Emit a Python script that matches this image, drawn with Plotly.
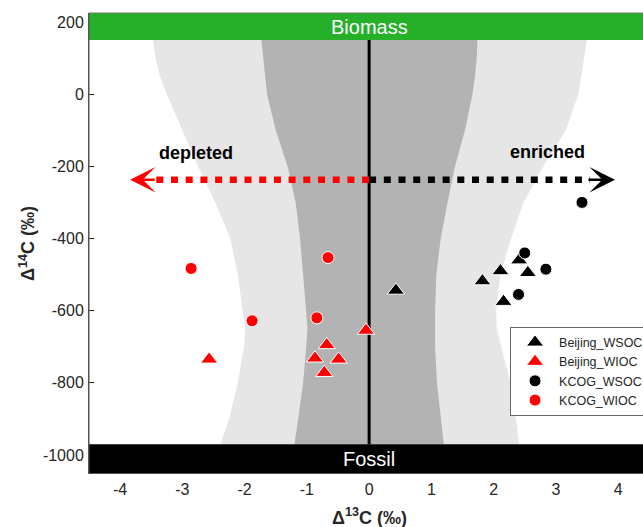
import plotly.graph_objects as go

# ---------------- data ----------------
bj_wsoc_x = [0.43, 1.82, 2.11, 2.41, 2.55, 2.16]
bj_wsoc_y = [-544, -518, -490, -460, -495, -575]
bj_wioc_x = [-2.57, -0.05, -0.68, -0.87, -0.49, -0.72]
bj_wioc_y = [-735, -655, -695, -732, -735, -772]
kc_wsoc_x = [3.42, 2.50, 2.84, 2.40]
kc_wsoc_y = [-300, -440, -485, -555]
kc_wioc_x = [-2.86, -1.88, -0.66, -0.84]
kc_wioc_y = [-483, -628, -453, -620]

# shaded envelope boundaries (x value at each y level)
band_y = [150, 100, 50, 0, -100, -200, -300, -400, -500, -600, -650, -700, -800, -900, -970]
light_left = [-3.47, -3.43, -3.36, -3.25, -3.00, -2.75, -2.47, -2.23, -2.11, -2.03, -1.99, -2.01, -2.11, -2.25, -2.39]
dark_left = [-1.73, -1.70, -1.67, -1.64, -1.50, -1.31, -1.18, -1.11, -1.06, -1.01, -0.99, -1.01, -1.06, -1.14, -1.20]
dark_right = [1.74, 1.73, 1.70, 1.66, 1.54, 1.38, 1.26, 1.15, 1.08, 1.06, 1.06, 1.06, 1.09, 1.15, 1.20]
light_right = [3.50, 3.46, 3.41, 3.36, 3.16, 2.80, 2.48, 2.28, 2.11, 2.04, 2.05, 2.13, 2.27, 2.36, 2.41]

x_range = [-4.5, 4.4]
y_range = [-1050, 225]
biomass_bottom = 150
fossil_top = -970
arrow_y = -237
depleted_start, depleted_tip = -3.47, -3.84
enriched_start, enriched_tip = 3.55, 3.95
x_ticks = [-4, -3, -2, -1, 0, 1, 2, 3, 4]
x_tick_labels = ["-4", "-3", "-2", "-1", "0", "1", "2", "3", "4"]
y_ticks = [-1000, -800, -600, -400, -200, 0, 200]
y_tick_labels = ["-1000", "-800", "-600", "-400", "-200", "0", "200"]

FONT = "Liberation Sans, Arial, sans-serif"
TICK_COLOR = "#262626"

fig = go.Figure()

# light band
fig.add_trace(go.Scatter(
    x=light_left + light_right[::-1], y=band_y + band_y[::-1],
    fill="toself", fillcolor="#e6e6e6", mode="lines", line=dict(width=0),
    hoverinfo="skip", showlegend=False))
# dark band
fig.add_trace(go.Scatter(
    x=dark_left + dark_right[::-1], y=band_y + band_y[::-1],
    fill="toself", fillcolor="#b3b3b3", mode="lines", line=dict(width=0),
    hoverinfo="skip", showlegend=False))
# vertical zero line
fig.add_trace(go.Scatter(
    x=[0, 0], y=[fossil_top, biomass_bottom], mode="lines",
    line=dict(color="black", width=3), hoverinfo="skip", showlegend=False))
# dotted arrows
fig.add_trace(go.Scatter(
    x=[0, depleted_start], y=[arrow_y, arrow_y], mode="lines",
    line=dict(color="#ff0000", width=6.5, dash="7px,7.7px"),
    hoverinfo="skip", showlegend=False))
fig.add_trace(go.Scatter(
    x=[0, enriched_start], y=[arrow_y, arrow_y], mode="lines",
    line=dict(color="black", width=6.5, dash="7px,7.7px"),
    hoverinfo="skip", showlegend=False))

marker_line = dict(color="white", width=1)
fig.add_trace(go.Scatter(x=bj_wsoc_x, y=bj_wsoc_y, mode="markers", name="Beijing_WSOC",
                         marker=dict(symbol="triangle-up", size=15, color="black", line=marker_line)))
fig.add_trace(go.Scatter(x=bj_wioc_x, y=bj_wioc_y, mode="markers", name="Beijing_WIOC",
                         marker=dict(symbol="triangle-up", size=15, color="#ff0000", line=marker_line)))
fig.add_trace(go.Scatter(x=kc_wsoc_x, y=kc_wsoc_y, mode="markers", name="KCOG_WSOC",
                         marker=dict(symbol="circle", size=12, color="black", line=marker_line)))
fig.add_trace(go.Scatter(x=kc_wioc_x, y=kc_wioc_y, mode="markers", name="KCOG_WIOC",
                         marker=dict(symbol="circle", size=12, color="#ff0000", line=marker_line)))

shapes = [
    dict(type="rect", xref="paper", x0=0, x1=1, yref="y", y0=biomass_bottom, y1=y_range[1],
         fillcolor="#26b02a", line=dict(width=0), layer="above"),
    dict(type="rect", xref="paper", x0=0, x1=1, yref="y", y0=y_range[0], y1=fossil_top,
         fillcolor="black", line=dict(width=0), layer="above"),
    dict(type="line", xref="paper", x0=0, x1=1, yref="paper", y0=1, y1=1,
         line=dict(color="#777777", width=1), layer="above"),
    dict(type="line", xref="paper", x0=0, x1=0, yref="paper", y0=0, y1=1,
         line=dict(color="#555555", width=1), layer="above"),
]

annotations = [
    dict(x=0, y=(biomass_bottom + y_range[1]) / 2, xref="x", yref="y", text="Biomass",
         showarrow=False, font=dict(family=FONT, size=20, color="white")),
    dict(x=0, y=(fossil_top + y_range[0]) / 2, xref="x", yref="y", text="Fossil",
         showarrow=False, font=dict(family=FONT, size=20, color="white")),
    dict(x=-2.78, y=-162, xref="x", yref="y", text="<b>depleted</b>",
         showarrow=False, font=dict(family=FONT, size=18, color="black")),
    dict(x=2.86, y=-159, xref="x", yref="y", text="<b>enriched</b>",
         showarrow=False, font=dict(family=FONT, size=18, color="black")),
    dict(x=depleted_tip, y=arrow_y, ax=depleted_start + 0.05, ay=arrow_y,
         xref="x", yref="y", axref="x", ayref="y", text="", showarrow=True,
         arrowhead=3, arrowwidth=2.5, arrowsize=1.7, arrowcolor="#ff0000"),
    dict(x=enriched_tip, y=arrow_y, ax=enriched_start - 0.05, ay=arrow_y,
         xref="x", yref="y", axref="x", ayref="y", text="", showarrow=True,
         arrowhead=3, arrowwidth=2.5, arrowsize=1.7, arrowcolor="black"),
    dict(x=0, y=-0.095, xref="x", yref="paper", text="<b>Δ<sup>13</sup>C (‰)</b>",
         showarrow=False, xanchor="center", yanchor="middle",
         font=dict(family=FONT, size=18, color=TICK_COLOR)),
    dict(x=-0.112, y=0.5, xref="paper", yref="paper", text="<b>Δ<sup>14</sup>C (‰)</b>",
         showarrow=False, textangle=-90, xanchor="center", yanchor="middle",
         font=dict(family=FONT, size=18, color=TICK_COLOR)),
]

fig.update_layout(
    width=643, height=527,
    margin=dict(l=89, r=0, t=13, b=54, autoexpand=False),
    paper_bgcolor="white", plot_bgcolor="white",
    font=dict(family=FONT, color=TICK_COLOR),
    shapes=shapes, annotations=annotations,
    xaxis=dict(range=x_range, tickvals=x_ticks, ticktext=x_tick_labels,
               ticks="inside", ticklen=5,
               tickcolor=TICK_COLOR, showgrid=False, zeroline=False,
               showline=True, linecolor="#555555", linewidth=1,
               ticklabelstandoff=2,
               tickfont=dict(family=FONT, size=16, color=TICK_COLOR)),
    yaxis=dict(range=y_range, tickvals=y_ticks, ticktext=y_tick_labels,
               ticks="inside", ticklen=5,
               tickcolor=TICK_COLOR, showgrid=False, zeroline=False,
               showline=True, linecolor="#555555", linewidth=1,
               ticklabelstandoff=1,
               tickfont=dict(family=FONT, size=16, color=TICK_COLOR)),
    legend=dict(x=0.760, y=0.318, xanchor="left", yanchor="top",
                bgcolor="white", bordercolor="#666666", borderwidth=1,
                itemwidth=38, tracegroupgap=0,
                font=dict(family=FONT, size=12.5, color=TICK_COLOR)),
    showlegend=True,
)

fig.write_html("out.html", config={"displayModeBar": False},
               post_script="document.body.style.margin='0';")
